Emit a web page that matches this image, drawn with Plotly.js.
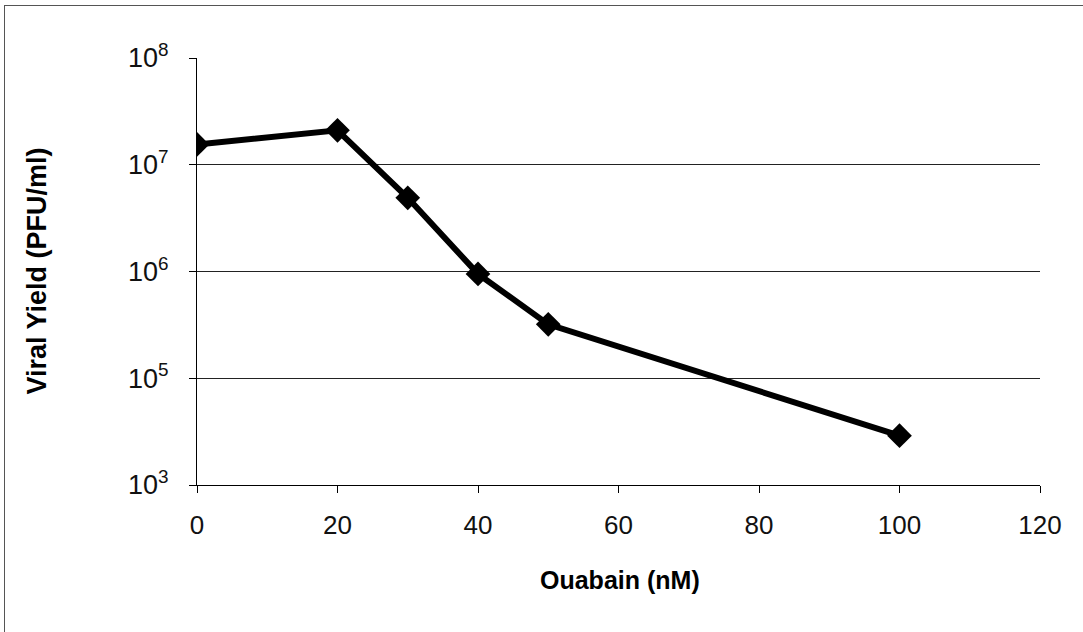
<!DOCTYPE html>
<html>
<head>
<meta charset="utf-8">
<script src="https://cdn.plot.ly/plotly-3.0.1.min.js"></script>
<style>
html,body{margin:0;padding:0;background:#fff;overflow:hidden;}
#chart{width:1083px;height:632px;}
#frame{position:absolute;left:4px;top:5px;width:1200px;height:800px;border-top:1.5px solid #555;border-left:1.5px solid #555;pointer-events:none;}
</style>
</head>
<body>
<div id="chart"></div>
<div id="frame"></div>
<script>
const ouabain = [0, 20, 30, 40, 50, 100];
const viralYield = [1.55e7, 2.1e7, 4.9e6, 9.5e5, 3.2e5, 2.9e4];
const yTickVals = [1e4, 1e5, 1e6, 1e7, 1e8];
const yTickText = ['10<sup>3</sup>', '10<sup>5</sup>', '10<sup>6</sup>', '10<sup>7</sup>', '10<sup>8</sup>'];
const xTickVals = [0, 20, 40, 60, 80, 100, 120];
const xTitle = 'Ouabain (nM)';
const yTitle = 'Viral Yield (PFU/ml)';

const font = 'Liberation Sans, Arial, sans-serif';

Plotly.newPlot('chart', [{
  x: ouabain, y: viralYield,
  type: 'scatter', mode: 'lines+markers',
  line: {color: '#000', width: 6},
  marker: {symbol: 'diamond', size: 19, color: '#000'},
  hoverinfo: 'x+y'
}], {
  width: 1083, height: 632,
  margin: {l: 197, r: 43, t: 58, b: 147},
  paper_bgcolor: '#fff', plot_bgcolor: '#fff',
  showlegend: false,
  font: {family: font, color: '#000'},
  xaxis: {
    range: [0, 120], tickvals: xTickVals, ticks: 'outside', ticklen: 7, tickcolor: '#000',
    showline: true, linecolor: '#000', linewidth: 1, showgrid: false, zeroline: false,
    tickfont: {size: 26, family: font, color: '#111'}, ticklabelstandoff: 10, automargin: false
  },
  yaxis: {
    type: 'log', range: [4, 8], tickvals: yTickVals, ticktext: yTickText,
    ticks: 'outside', ticklen: 7, tickcolor: '#000',
    showline: true, linecolor: '#000', linewidth: 1,
    showgrid: true, gridcolor: '#222', gridwidth: 1, zeroline: false,
    tickfont: {size: 27, family: font, color: '#111'}, ticklabelstandoff: 15, automargin: false
  },
  annotations: [
    {text: '<b>' + xTitle + '</b>', xref: 'paper', yref: 'paper', x: 0.502, y: -0.222,
     xanchor: 'center', yanchor: 'middle', showarrow: false, font: {size: 25, family: font}},
    {text: '<b>' + yTitle + '</b>', xref: 'paper', yref: 'paper', x: -0.19, y: 0.502,
     xanchor: 'center', yanchor: 'middle', textangle: -90, showarrow: false, font: {size: 27, family: font}}
  ],
  shapes: [
    {type: 'line', xref: 'paper', yref: 'paper', x0: 0, x1: 1, y0: 1, y1: 1, line: {color: '#fff', width: 2}}
  ]
}, {staticPlot: true});
</script>
</body>
</html>
